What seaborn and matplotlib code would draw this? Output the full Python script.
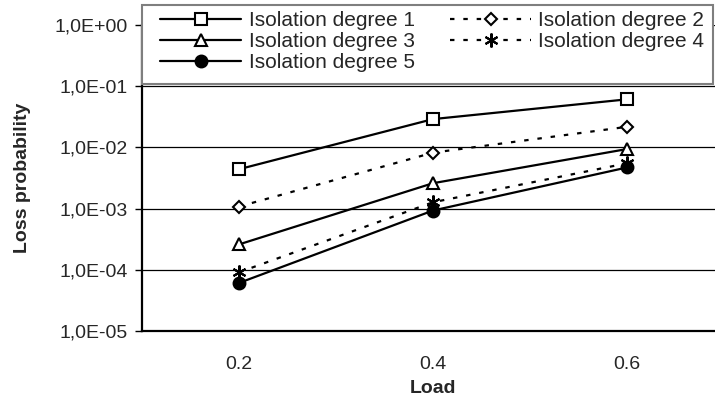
import numpy as np
import pandas as pd
import matplotlib
matplotlib.use("Agg")
import matplotlib.pyplot as plt
import matplotlib.ticker as mticker
from matplotlib.patches import Rectangle
import seaborn as sns

# ---- data ----
loads = ["0.2", "0.4", "0.6"]
deg1 = [4.4e-3, 2.9e-2, 6.1e-2]
deg2 = [1.08e-3, 8.2e-3, 2.17e-2]
deg3 = [2.6e-4, 2.6e-3, 9.4e-3]
deg4 = [9.1e-5, 1.27e-3, 5.5e-3]
deg5 = [6.1e-5, 9.3e-4, 4.7e-3]
series_names = ["Isolation degree 1", "Isolation degree 2", "Isolation degree 3",
                "Isolation degree 4", "Isolation degree 5"]
series_vals = [deg1, deg2, deg3, deg4, deg5]

rows = []
for name, vals in zip(series_names, series_vals):
    for i, (ld, v) in enumerate(zip(loads, vals)):
        rows.append({"series": name, "idx": i, "load": ld, "value": v})
df = pd.DataFrame(rows)

sns.set_style("white")
plt.rcParams["font.family"] = ["Liberation Sans", "DejaVu Sans"]

FW, FH = 715, 401
fig = plt.figure(figsize=(FW / 100, FH / 100), dpi=100)
AX_L, AX_R, AX_T, AX_B = 142, 724, 25, 331
ax = fig.add_axes([AX_L / FW, 1 - AX_B / FH, (AX_R - AX_L) / FW, (AX_B - AX_T) / FH])

def ax_x(px):
    return (px - AX_L) / (AX_R - AX_L)

def ax_y(py):
    return (AX_B - py) / (AX_B - AX_T)

styles = {
    "Isolation degree 1": dict(marker="s", ls="-", mfc="white", ms=8),
    "Isolation degree 2": dict(marker="D", ls=(0, (2, 4)), mfc="white", ms=6.5),
    "Isolation degree 3": dict(marker="^", ls="-", mfc="white", ms=8.5),
    "Isolation degree 4": dict(marker=(6, 2, 0), ls=(0, (2, 4)), mfc="black", ms=10),
    "Isolation degree 5": dict(marker="o", ls="-", mfc="black", ms=8.5),
}

handles = {}
for name in series_names:
    st = styles[name]
    sub = df[df["series"] == name]
    sns.lineplot(data=sub, x="idx", y="value", ax=ax, color="black",
                 linewidth=1.6, linestyle=st["ls"], marker=st["marker"],
                 markersize=st["ms"], markerfacecolor=st["mfc"],
                 markeredgecolor="black", markeredgewidth=1.5,
                 label=name, legend=False)
    handles[name] = ax.lines[-1]

ax.set_yscale("log")
ax.set_ylim(1e-5, 1e0)
ax.set_xlim(-0.5, 2.5)
ax.set_xticks(range(len(loads)))
ax.set_xticklabels(loads)
ax.yaxis.set_major_locator(mticker.LogLocator(base=10, numticks=10))
ax.yaxis.set_minor_locator(mticker.NullLocator())
ax.yaxis.set_major_formatter(mticker.FuncFormatter(
    lambda v, p: "1,0E{:+03d}".format(int(round(np.log10(v))))))

ax.grid(True, axis="y", color="black", linewidth=0.9)
ax.grid(False, axis="x")
for s in ["top", "right"]:
    ax.spines[s].set_visible(False)
for s in ["left", "bottom"]:
    ax.spines[s].set_color("black")
    ax.spines[s].set_linewidth(1.6)

ax.tick_params(axis="y", which="major", direction="out", length=5, width=1,
               color="black", pad=5, labelsize=14, left=True)
ax.tick_params(axis="x", length=0, pad=18, labelsize=14)

ax.set_xlabel("Load", fontsize=14, fontweight="bold", labelpad=5)
ax.set_ylabel("Loss probability", fontsize=14, fontweight="bold", labelpad=17)

# legend frame box (drawn in axes coords)
frame = Rectangle((ax_x(142), ax_y(84)), ax_x(713) - ax_x(142), ax_y(5) - ax_y(84),
                  transform=ax.transAxes, facecolor="white", edgecolor="#7f7f7f",
                  linewidth=1.5, clip_on=False, zorder=4)
ax.add_patch(frame)

order = ["Isolation degree 1", "Isolation degree 3", "Isolation degree 5",
         "Isolation degree 2", "Isolation degree 4"]
leg = ax.legend([handles[n] for n in order], order, ncol=2,
                loc="upper left", bbox_to_anchor=(ax_x(160), ax_y(11)),
                fontsize=15, handlelength=3.9, handletextpad=0.35,
                labelspacing=0.1, borderpad=0.0, borderaxespad=0,
                columnspacing=1.7, frameon=False)
leg.set_zorder(5)

fig.savefig("out.png", dpi=100)
